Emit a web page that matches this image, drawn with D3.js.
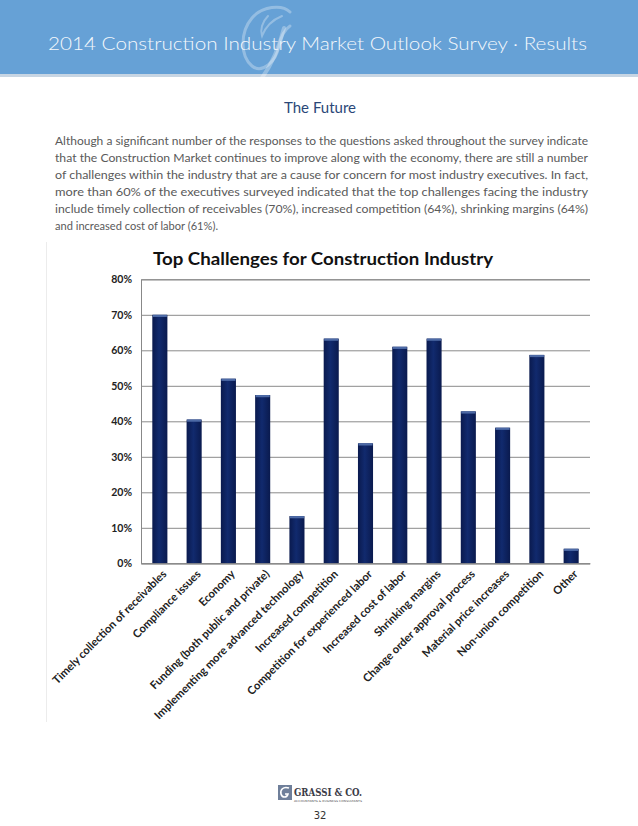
<!DOCTYPE html>
<html>
<head>
<meta charset="utf-8">
<script src="https://cdn.jsdelivr.net/npm/d3@7"></script>
<style>
  html, body { margin: 0; padding: 0; background: #fff; }
  svg { display: block; }
</style>
</head>
<body>
<svg id="page" width="638" height="826"></svg>
<script>
// ---- data ----
const categories = [
  "Timely collection of receivables",
  "Compliance issues",
  "Economy",
  "Funding (both public and private)",
  "Implementing more advanced technology",
  "Increased competition",
  "Competition for experienced labor",
  "Increased cost of labor",
  "Shrinking margins",
  "Change order approval process",
  "Material price increases",
  "Non-union competition",
  "Other"
];
const values = [0.70, 0.405, 0.52, 0.474, 0.133, 0.633, 0.338, 0.61, 0.633, 0.428, 0.382, 0.587, 0.041];
const yTicks = [0, 0.1, 0.2, 0.3, 0.4, 0.5, 0.6, 0.7, 0.8];
const headerTitle = "2014 Construction Industry Market Outlook Survey \u00B7 Results";
const sectionTitle = "The Future";
const chartTitle = "Top Challenges for Construction Industry";
const paragraph = [
  "Although a significant number of the responses to the questions asked throughout the survey indicate",
  "that the Construction Market continues to improve along with the economy, there are still a number",
  "of challenges within the industry that are a cause for concern for most industry executives.  In fact,",
  "more than 60% of the executives surveyed indicated that the top challenges facing the industry",
  "include timely collection of receivables (70%), increased competition (64%), shrinking margins (64%)",
  "and increased cost of labor (61%)."
];
const pageNumber = "32";

// ---- drawing ----
const svg = d3.select("#page");
const font = "'Century Gothic', 'Lato', 'Open Sans', sans-serif";

const defs = svg.append("defs");
const grad = defs.append("linearGradient").attr("id", "barGrad")
  .attr("x1", "0").attr("x2", "1").attr("y1", "0").attr("y2", "0");
grad.append("stop").attr("offset", "0%").attr("stop-color", "#0a1a4e");
grad.append("stop").attr("offset", "45%").attr("stop-color", "#112a6e");
grad.append("stop").attr("offset", "100%").attr("stop-color", "#0a1a4e");

// header band
svg.append("rect").attr("x", 0).attr("y", 0).attr("width", 638).attr("height", 74).attr("fill", "#66a1d6");
svg.append("rect").attr("x", 0).attr("y", 74).attr("width", 638).attr("height", 3).attr("fill", "#c7d5e3");
// watermark script G (decorative shape)
const wm = svg.append("g").attr("fill", "none").attr("stroke", "#ffffff").attr("stroke-opacity", 0.3)
  .attr("stroke-linecap", "round");
wm.append("path").attr("stroke-width", 3)
  .attr("d", "M290,12 C282,4 262,6 252,18 C240,32 240,56 252,66 C262,74 276,62 279,46 C281,36 284,30 290,26");
wm.append("path").attr("stroke-width", 4)
  .attr("d", "M284,28 C279,48 272,64 262,78");
wm.append("path").attr("stroke-width", 2)
  .attr("d", "M268,16 C262,22 260,30 262,36 C265,28 272,20 282,16");
svg.append("text").attr("x", 48).attr("y", 50)
  .attr("font-family", font).attr("font-weight", 300).attr("font-size", 18.5).attr("fill", "#f4f8fc")
  .attr("textLength", 539).attr("lengthAdjust", "spacingAndGlyphs")
  .text(headerTitle);

// section title
svg.append("text").attr("x", 320).attr("y", 113).attr("text-anchor", "middle")
  .attr("font-family", font).attr("font-size", 15).attr("fill", "#2a4778")
  .text(sectionTitle);

// paragraph
const para = svg.append("g").attr("font-family", font).attr("font-size", 10.5).attr("fill", "#5a5a5a");
paragraph.forEach((line, i) => {
  const t = para.append("text").attr("x", 55).attr("y", 144.5 + i * 17).text(line);
  if (i < paragraph.length - 1) t.attr("textLength", 533).attr("lengthAdjust", "spacingAndGlyphs");
  else t.attr("textLength", 163).attr("lengthAdjust", "spacingAndGlyphs");
});

// faint left rule
svg.append("line").attr("x1", 46.5).attr("x2", 46.5).attr("y1", 242).attr("y2", 722)
  .attr("stroke", "#ececec").attr("stroke-width", 1);

// chart
const x = d3.scaleBand().domain(categories).range([141, 590]).paddingInner(0.56).paddingOuter(0.33);
const y = d3.scaleLinear().domain([0, 0.8]).range([563.3, 279.3]);

svg.append("text").attr("x", 153).attr("y", 265)
  .attr("font-family", font).attr("font-weight", "bold").attr("font-size", 16.5).attr("fill", "#111")
  .attr("textLength", 340).attr("lengthAdjust", "spacingAndGlyphs")
  .text(chartTitle);

// gridlines
const yAxis = d3.axisLeft(y).tickValues(yTicks).tickFormat(d3.format(".0%")).tickSize(-(590 - 141)).tickPadding(9);
const gy = svg.append("g").attr("transform", "translate(141,0)").call(yAxis);
gy.select(".domain").attr("stroke", "#888");
gy.selectAll(".tick line").attr("stroke", "#8a8a8a").attr("stroke-width", 1);
gy.selectAll(".tick text").attr("font-family", font).attr("font-weight", "bold")
  .attr("font-size", 10.5).attr("fill", "#222");

// bars
const bars = svg.append("g");
bars.selectAll("rect.bar").data(values).join("rect").attr("class", "bar")
  .attr("x", (d, i) => x(categories[i])).attr("width", x.bandwidth())
  .attr("y", d => y(d)).attr("height", d => y(0) - y(d))
  .attr("fill", "url(#barGrad)");
bars.selectAll("rect.cap").data(values).join("rect").attr("class", "cap")
  .attr("x", (d, i) => x(categories[i]) + 0.5).attr("width", x.bandwidth() - 1)
  .attr("y", d => y(d)).attr("height", 2.2)
  .attr("fill", "#4d6aa6");

// bottom axis
const xAxis = d3.axisBottom(x).tickSize(0).tickPadding(0);
const gx = svg.append("g").attr("transform", `translate(0,${y(0)})`).call(xAxis);
gx.select(".domain").attr("stroke", "#888");
gx.selectAll(".tick text")
  .attr("font-family", font).attr("font-weight", "bold").attr("font-size", 11.2).attr("fill", "#222")
  .attr("text-anchor", "end")
  .attr("transform", "translate(5,9) rotate(-45)")
  .attr("dy", "0.3em");

// footer logo
const logo = svg.append("g");
logo.append("rect").attr("x", 278).attr("y", 785).attr("width", 14).attr("height", 15).attr("fill", "#6f7f9a");
logo.append("path").attr("d", "M289,788 C283,786 280,790 281,794 C282,798 287,798 288,794 L285,794")
  .attr("fill", "none").attr("stroke", "#ffffff").attr("stroke-width", 1.6);
logo.append("text").attr("x", 294).attr("y", 796)
  .attr("font-family", "'DejaVu Serif', 'Liberation Serif', serif").attr("font-weight", "bold")
  .attr("font-size", 10.5).attr("fill", "#3c3c48")
  .attr("textLength", 68).attr("lengthAdjust", "spacingAndGlyphs").text("GRASSI & CO.");
logo.append("text").attr("x", 294).attr("y", 801.5)
  .attr("font-family", "'DejaVu Sans', sans-serif").attr("font-size", 2.6).attr("fill", "#555")
  .attr("textLength", 68).attr("lengthAdjust", "spacingAndGlyphs").text("ACCOUNTANTS & BUSINESS CONSULTANTS");
svg.append("text").attr("x", 320).attr("y", 819).attr("text-anchor", "middle")
  .attr("font-family", "'DejaVu Sans', sans-serif").attr("font-size", 10).attr("fill", "#333")
  .text(pageNumber);
</script>
</body>
</html>
